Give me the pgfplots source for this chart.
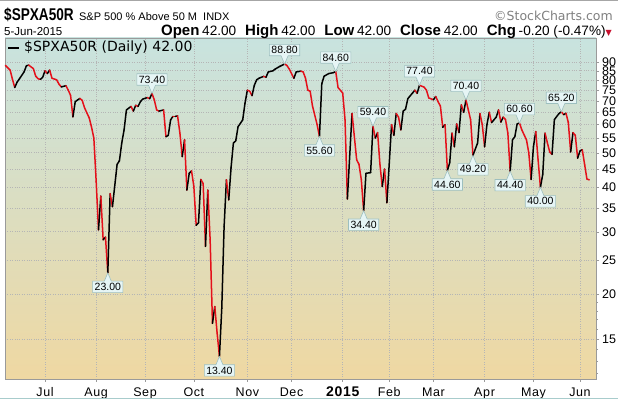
\documentclass[border=0pt]{standalone}
\usepackage{graphicx}
\usepackage{pgfplots}
\pgfplotsset{compat=1.18}
\usepackage{pgfplotstable}
\usepackage{fontspec}
\setmainfont{Liberation Sans}
\newfontfamily\dejavu{DejaVu Sans}
\newfontfamily\ticksf[LetterSpace=5]{Liberation Sans}
\usetikzlibrary{shapes.callouts}
\definecolor{lblfill}{HTML}{E6F5F5}
\definecolor{lbldraw}{HTML}{9DBFBF}
\definecolor{bgtop}{HTML}{C8E3DF}
\definecolor{bgmid}{HTML}{F2E8BD}
\definecolor{bgbot}{HTML}{EFD8A2}
\definecolor{upc}{HTML}{000000}
\definecolor{downc}{HTML}{E4101A}
\definecolor{gridc}{HTML}{B5B5B5}
\definecolor{framec}{HTML}{9A9A9A}
\definecolor{chgred}{HTML}{C8102E}
\definecolor{botline}{HTML}{A8CCCC}

\pgfplotstableread{
x y
0 88
2 85.4
3 80.5
4 76.3
5 79
6 80.7
8 84.4
9 87.8
10 88.2
12 86.2
13 82.1
14 80.8
15 80.4
16 81.5
17 85
18 83.5
19 85.4
20 81
22 80.2
23 78
24 76.6
26 77.2
27 75
28 72.5
29 63.1
30 69.6
31 70.4
32 71.1
33 70.2
34 66.9
36 62.7
37 59.1
38 55
39 41.6
40 30.4
41 37.8
42 28.5
43 29
44 23.0
45 38.4
46 35.3
48 46.4
49 47.5
50 53.3
51 58
52 66
54 67.5
55 65.5
56 68
57 67.5
58 69.6
59 70.8
61 71.5
62 71
63 73.4
64 70.4
65 66
66 65.5
68 66
69 55.5
70 56
71 61.9
72 63.3
73 63.3
74 63.5
75 56.8
76 48.8
77 54.4
78 39.3
79 43.8
80 44.5
81 40.2
82 31.3
83 31.8
84 42.1
85 41
86 27.3
87 39.3
88 28.5
89 16.6
90 18.5
91 15.6
92 13.4
93 18.3
94 31
95 42
96 36.9
97 45.5
98 53.3
99 54
100 59.2
101 60.5
102 61.9
103 69
104 75
105 74.5
106 72.4
107 77.4
108 80.2
109 81
111 82
112 81.5
113 84.4
115 85
116 86
118 87.5
120 88.8
121 88
122 86
124 81
125 84.4
127 84.8
128 84.4
129 81
130 75
131 74.5
132 67.7
134 60
135 55.6
136 78.2
137 82.1
139 83.5
141 84
142 84.6
143 76.3
145 73.6
146 61.9
147 37.1
149 64.5
151 47.8
152 46.4
153 42
154 34.4
155 43.8
157 44
158 59.4
159 55
160 57
161 46.4
162 40.2
163 45
164 36.2
166 60
167 56
168 64.5
169 63
170 58
171 65.5
172 66.3
173 71
175 73.6
176 75
177 73.5
178 77.4
180 76.5
181 75
182 71.3
184 70.5
185 72
186 69.6
187 67.7
188 59
189 60
190 44.6
191 46.9
192 56.8
193 52
194 60.3
195 57
196 68.2
197 65
198 70.4
199 66
200 61.9
201 49.2
203 53.3
204 64.5
205 60
206 52
207 60
208 65
209 60.8
211 63
212 66
213 61
214 63
215 62
216 56.8
217 44.4
218 54.4
219 55.5
220 60.3
221 60.6
222 58
224 54.4
225 50
226 42.1
227 52
228 57.4
229 47.8
230 40
231 43.5
232 56.8
233 53.3
234 50.3
235 49.5
236 62
238 64.5
239 65.2
240 64
241 64.6
242 60.8
243 50.3
244 57
245 56
246 48.3
247 50.6
248 51
249 46.4
250 42.2
251 42
}\data

\pgfplotstablecreatecol[create col/assign/.code={%
  \getthisrow{y}\cur
  \getnextrow{y}\nxt
  \ifx\nxt\empty
    \def\entry{0}%
  \else
    \pgfmathparse{(\nxt>\cur) ? 1 : 0}%
    \let\entry\pgfmathresult
  \fi
  \pgfkeyslet{/pgfplots/table/create col/next content}\entry
}]{d}\data

\tikzset{lbl/.style={rectangle callout, fill=lblfill, draw=lbldraw, line width=0.6bp,
  inner xsep=2bp, inner ysep=2bp, font=\fontsize{10.5bp}{11bp}\selectfont,
  callout pointer width=7bp}}
\newcommand\hilbl[3]{\node[lbl, callout absolute pointer={(axis cs:#1,#2)}] at ([yshift=14bp]axis cs:#1,#2) {#3};}
\newcommand\lolbl[3]{\node[lbl, callout absolute pointer={(axis cs:#1,#2)}] at ([yshift=-14bp]axis cs:#1,#2) {#3};}
\newcommand\hb[1]{{\fontsize{15bp}{16bp}\selectfont\bfseries #1}}
\newcommand\nm[1]{{\fontsize{13.6bp}{14bp}\selectfont #1}}

\begin{document}
\begin{tikzpicture}
\path[use as bounding box] (0,0) rectangle (618bp,399bp);
\fill[white] (0,0) rectangle (618bp,399bp);
\begin{axis}[
  at={(5bp,20bp)}, anchor=south west,
  scale only axis, width=591bp, height=341bp,
  xmin=-0.2, xmax=253.9,
  ymode=log, ymin=11.58, ymax=105.1,
  axis background/.style={top color=bgtop, middle color=bgmid, bottom color=bgbot},
  xtick={17,39,60,81,104,123,145,165,184,206,227,247},
  xticklabels={Jul,Aug,Sep,Oct,Nov,Dec,{\fontsize{14bp}{14bp}\selectfont\bfseries 2015},Feb,Mar,Apr,May,Jun},
  ytick={15,20,25,30,35,40,45,50,55,60,65,70,75,80,85,90},
  yticklabels={15,20,25,30,35,40,45,50,55,60,65,70,75,80,85,90},
  minor ytick={12,13,14,16,17,18,19},
  xtick pos=left, ytick pos=right, yticklabel pos=right,
  tick align=outside, major tick length=3bp, minor tick length=2bp,
  tick style={framec, line width=0.6bp},
  axis line style={framec, line width=0.8bp},
  grid=major, grid style={gridc, dotted, line width=0.7bp},
  xticklabel style={font=\ticksf\fontsize{12.5bp}{13bp}\selectfont, anchor=base, yshift=-15bp},
  yticklabel style={font=\fontsize{12.5bp}{13bp}\selectfont, anchor=west, inner sep=0pt, xshift=3bp},
  colormap={updown}{color(0cm)=(downc); color(1cm)=(upc)},
  point meta min=0, point meta max=1,
  clip=false,
]
\addplot[mesh, shader=flat corner, point meta=\thisrow{d}, line width=1.5bp, line cap=round, line join=round] table[x=x, y=y] {\data};
\hilbl{120}{88.8}{88.80}
\hilbl{63}{73.4}{73.40}
\lolbl{44}{23.0}{23.00}
\lolbl{92}{13.4}{13.40}
\lolbl{135}{55.6}{55.60}
\hilbl{142}{84.6}{84.60}
\lolbl{154}{34.4}{34.40}
\hilbl{158}{59.4}{59.40}
\hilbl{178}{77.4}{77.40}
\hilbl{198}{70.4}{70.40}
\lolbl{190}{44.6}{44.60}
\lolbl{201}{49.2}{49.20}
\hilbl{221}{60.6}{60.60}
\lolbl{217}{44.4}{44.40}
\lolbl{230}{40.0}{40.00}
\hilbl{239}{65.2}{65.20}
\end{axis}
% legend
\draw[line width=2.5bp] (8bp,351bp) -- (19bp,351bp);
\node[anchor=base west, inner sep=0] at (24bp,347bp) {\dejavu\fontsize{14bp}{15bp}\selectfont \$SPXA50R (Daily) 42.00};
% header
\draw[gray!70, line width=1.5bp] (0,398.25bp) -- (618bp,398.25bp);
\draw[botline, line width=1.5bp] (0,0.75bp) -- (618bp,0.75bp);
\node[anchor=base west, inner sep=0] (T) at (4bp,378bp) {\scalebox{0.8}[1]{\fontsize{17bp}{18bp}\selectfont\bfseries \$SPXA50R}};
\node[anchor=base west, inner sep=0] at ([xshift=5bp]T.base east) {\fontsize{11bp}{12bp}\selectfont S\&P 500 \% Above 50 M\ \ INDX};
\node[anchor=base east, inner sep=0, text=gray] at (613bp,378bp) {\dejavu\fontsize{12.5bp}{13bp}\selectfont ©StockCharts.com};
\node[anchor=base west, inner sep=0] at (4bp,363bp) {\fontsize{11.5bp}{12bp}\selectfont 5-Jun-2015};
\node[anchor=base east, inner sep=0] at (612bp,363bp) {\hb{Open} \nm{42.00}\hspace{9bp}\hb{High} \nm{42.00}\hspace{9bp}\hb{Low} \nm{42.00}\hspace{9bp}\hb{Close} \nm{42.00}\hspace{9bp}\hb{Chg} \nm{-0.20 (-0.47\%)}{\dejavu\color{chgred}\fontsize{8bp}{9bp}\selectfont ▼}};
\end{tikzpicture}
\end{document}
